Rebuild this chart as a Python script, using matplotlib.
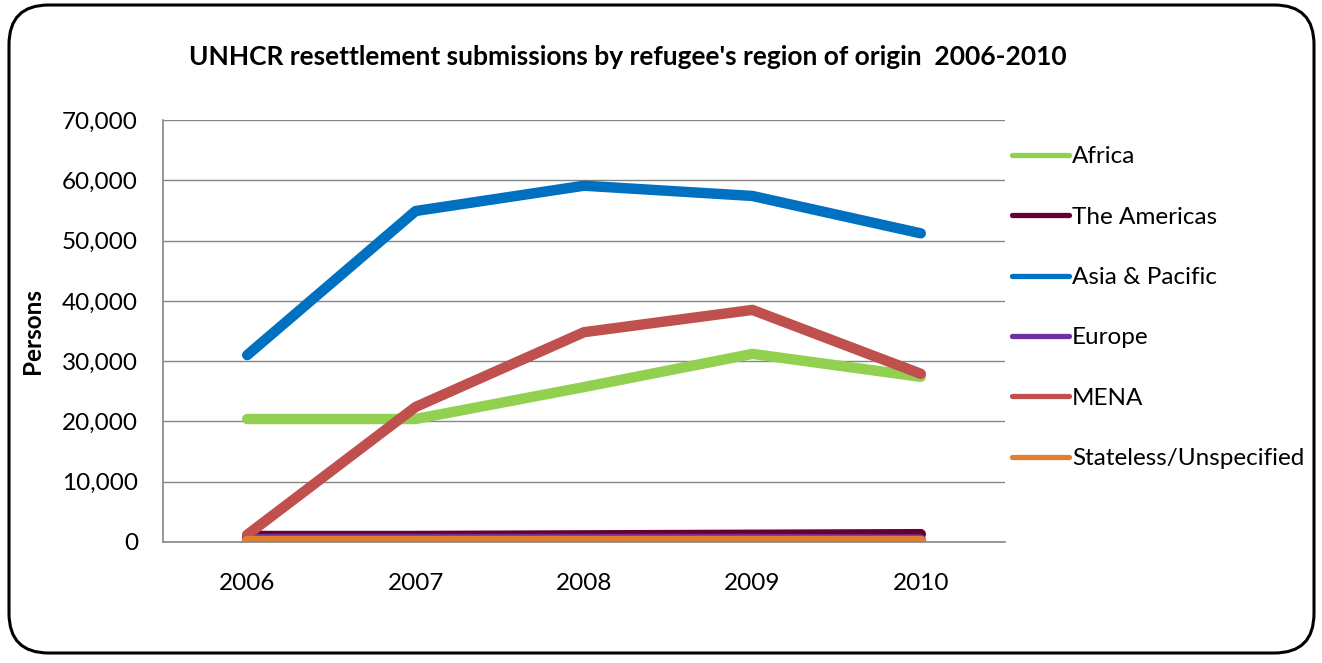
import matplotlib.pyplot as plt
from matplotlib.patches import FancyBboxPatch
from matplotlib.ticker import FuncFormatter

years = ['2006', '2007', '2008', '2009', '2010']
africa = [20400, 20400, 25700, 31200, 27400]
americas = [1000, 1000, 1100, 1200, 1300]
asia = [31000, 54900, 59100, 57400, 51200]
europe = [500, 500, 500, 500, 400]
mena = [1200, 22400, 34800, 38500, 27900]
stateless = [100, 100, 100, 100, 100]

series = [
    ('Africa', africa, '#92D050'),
    ('The Americas', americas, '#660033'),
    ('Asia & Pacific', asia, '#0070C0'),
    ('Europe', europe, '#7030A0'),
    ('MENA', mena, '#C0504D'),
    ('Stateless/Unspecified', stateless, '#E07F2F'),
]

plt.rcParams['font.family'] = ['Lato', 'DejaVu Sans']

fig = plt.figure(figsize=(13.22, 6.63), dpi=100)
ax = fig.add_axes([163 / 1322, 1 - 542 / 663, 842 / 1322, 422 / 663])

x = list(range(len(years)))
for name, vals, col in series:
    ax.plot(x, vals, color=col, lw=7.5, solid_capstyle='round',
            solid_joinstyle='round', label=name)

ax.set_xlim(-0.5, 4.5)
ax.set_ylim(0, 70000)
ax.set_yticks(range(0, 70001, 10000))
ax.yaxis.set_major_formatter(FuncFormatter(lambda v, p: f'{int(v):,}'))
ax.set_xticks(x)
ax.set_xticklabels(years)
ax.tick_params(axis='both', labelsize=17.5, length=0, colors='black')
ax.tick_params(axis='y', pad=18)
ax.tick_params(axis='x', pad=22)
ax.grid(axis='y', color='#868686', lw=1)
ax.set_axisbelow(True)
for s in ['top', 'right']:
    ax.spines[s].set_visible(False)
for s in ['left', 'bottom']:
    ax.spines[s].set_color('#868686')
    ax.spines[s].set_linewidth(1.2)

ax.set_ylabel('Persons', fontsize=17.5, fontweight='bold')
ax.yaxis.set_label_coords(-119 / 842, 0.5)

fig.text(628 / 1322, 1 - 57 / 663,
         "UNHCR resettlement submissions by refugee's region of origin  2006-2010",
         ha='center', va='center', fontsize=19, fontweight='bold')

leg = ax.legend(loc='upper left', bbox_to_anchor=(1.0, 0.955), frameon=False,
                fontsize=17.5, handlelength=2.35, handletextpad=0.1,
                labelspacing=1.62, borderaxespad=-0.1)
for h in leg.get_lines():
    h.set_linewidth(3.8)

frame = FancyBboxPatch((9 / 1322, 10 / 663), 1305 / 1322, 648 / 663,
                       boxstyle='round,pad=0,rounding_size=0.03',
                       transform=fig.transFigure, fill=False,
                       edgecolor='black', lw=2.2, mutation_aspect=1322 / 663)
fig.patches.append(frame)

fig.savefig('out.png', dpi=100)
